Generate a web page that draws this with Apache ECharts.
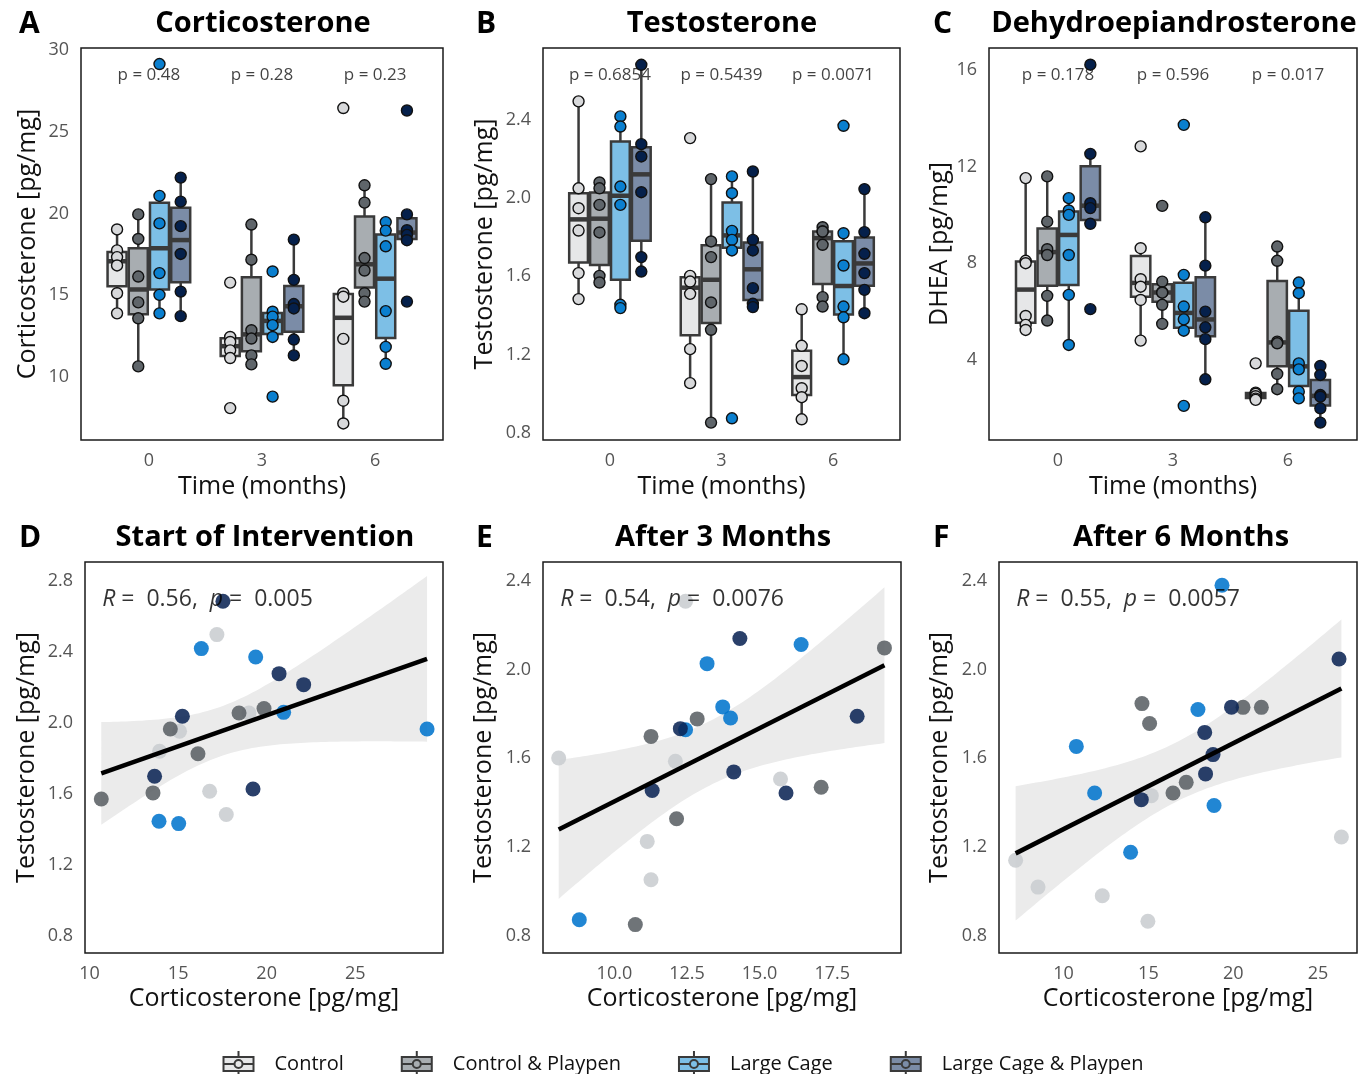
<!DOCTYPE html>
<html>
<head>
<meta charset="utf-8">
<script src="https://cdn.jsdelivr.net/npm/echarts@6/dist/echarts.min.js"></script>
<style>
  html, body { margin: 0; padding: 0; background: #fff; }
  #chart { width: 1366px; height: 1074px; }
</style>
</head>
<body>
<div id="chart"></div>
<script>
// groups and time points
const groups = ['Control', 'Control & Playpen', 'Large Cage', 'Large Cage & Playpen'];
const timeLabels = ['0', '3', '6'];

// panel A: corticosterone per group, one list per time point (0, 3, 6 months)
const cortControl = [[19.03, 17.75, 17.34, 16.83, 15.13, 13.9], [15.78, 12.46, 12.15, 11.64, 11.17, 8.11], [26.45, 15.13, 14.92, 12.34, 8.56, 7.17]];
const cortPlaypen = [[19.95, 18.45, 16.15, 14.57, 13.6, 10.66], [19.33, 17.18, 12.87, 12.36, 11.33, 10.78], [21.73, 20.67, 17.28, 16.52, 15.13, 14.62]];
const cortLarge = [[29.14, 21.08, 19.4, 16.36, 15.03, 13.9], [16.46, 14.0, 13.7, 13.18, 12.46, 8.81], [19.48, 18.96, 18.0, 14.04, 11.85, 10.82]];
const cortLargePlay = [[22.2, 20.73, 19.23, 17.53, 15.23, 13.73], [18.41, 15.95, 14.47, 14.2, 12.3, 11.33], [26.3, 19.95, 18.98, 18.7, 18.37, 14.62]];
const pCort = ['0.48', '0.28', '0.23'];

// panel B: testosterone
const testoControl = [[2.495, 2.05, 1.948, 1.834, 1.616, 1.483], [2.307, 1.602, 1.573, 1.51, 1.227, 1.053], [1.431, 1.244, 1.141, 1.027, 0.981, 0.868]];
const testoPlaypen = [[2.08, 2.05, 1.965, 1.824, 1.602, 1.568], [2.097, 1.778, 1.698, 1.466, 1.326, 0.851], [1.851, 1.829, 1.829, 1.761, 1.493, 1.445]];
const testoLarge = [[2.418, 2.366, 2.059, 1.965, 1.454, 1.437], [2.111, 2.025, 1.832, 1.786, 1.732, 0.873], [2.37, 1.82, 1.655, 1.445, 1.39, 1.175]];
const testoLargePlay = [[2.682, 2.276, 2.213, 2.03, 1.698, 1.624], [2.136, 1.786, 1.732, 1.539, 1.459, 1.442], [2.046, 1.826, 1.715, 1.616, 1.53, 1.411]];
const pTesto = ['0.6854', '0.5439', '0.0071'];

// panel C: DHEA
const dheaControl = [[11.52, 8.1, 8.0, 5.82, 5.45, 5.24], [12.83, 8.62, 7.34, 7.03, 6.48, 4.8], [3.86, 2.65, 2.6, 2.5, 2.4, 2.35]];
const dheaPlaypen = [[11.59, 9.72, 8.58, 8.34, 6.65, 5.63], [10.37, 7.24, 6.8, 6.78, 6.28, 5.49], [8.69, 8.1, 4.76, 4.69, 3.42, 2.79]];
const dheaLarge = [[10.69, 10.18, 10.0, 8.34, 6.69, 4.62], [13.72, 7.52, 6.21, 5.68, 5.21, 2.1], [7.2, 6.76, 3.86, 3.61, 2.69, 2.41]];
const dheaLargePlay = [[16.21, 12.52, 10.48, 10.28, 9.63, 6.1], [9.9, 7.9, 6.0, 5.35, 4.86, 3.2], [3.75, 3.38, 2.55, 2.48, 2.0, 1.41]];
const pDhea = ['0.178', '0.596', '0.017'];

// panels D-F: [corticosterone, testosterone] pairs
const startControl = [[13.95, 1.839], [15.08, 1.951], [16.78, 1.613], [17.19, 2.496], [17.72, 1.482], [19.0, 2.054]];
const startPlaypen = [[10.66, 1.57], [13.58, 1.604], [14.56, 1.964], [16.12, 1.825], [18.44, 2.054], [19.85, 2.079]];
const startLarge = [[13.92, 1.444], [15.03, 1.431], [16.31, 2.417], [19.38, 2.37], [20.96, 2.058], [29.06, 1.964]];
const startLargePlay = [[13.67, 1.698], [15.24, 2.036], [17.53, 2.684], [19.23, 1.626], [20.7, 2.276], [22.09, 2.214]];

const month3Control = [[8.08, 1.601], [11.13, 1.225], [11.26, 1.052], [12.1, 1.586], [12.45, 2.307], [15.72, 1.506]];
const month3Playpen = [[10.72, 0.85], [11.26, 1.698], [12.14, 1.327], [12.85, 1.777], [17.12, 1.469], [19.3, 2.097]];
const month3Large = [[8.79, 0.872], [12.45, 1.728], [13.19, 2.026], [13.73, 1.831], [14.0, 1.781], [16.43, 2.112]];
const month3LargePlay = [[11.3, 1.454], [12.27, 1.733], [14.11, 1.538], [14.32, 2.139], [15.91, 1.443], [18.36, 1.789]];

const month6Control = [[7.17, 1.14], [8.49, 1.019], [12.28, 0.98], [14.97, 0.865], [15.17, 1.431], [26.38, 1.245]];
const month6Playpen = [[14.62, 1.846], [15.07, 1.756], [16.45, 1.443], [17.23, 1.491], [20.58, 1.829], [21.66, 1.829]];
const month6Large = [[10.75, 1.653], [11.83, 1.443], [13.95, 1.176], [17.92, 1.819], [18.87, 1.387], [19.34, 2.379]];
const month6LargePlay = [[14.58, 1.413], [18.32, 1.716], [18.37, 1.529], [18.81, 1.616], [19.9, 1.83], [26.24, 2.047]];

const corrR = ['0.56', '0.54', '0.55'];
const corrP = ['0.005', '0.0076', '0.0057'];

// tick labels
const cortTicks = [10, 15, 20, 25, 30];
const testoTicks = [0.8, 1.2, 1.6, 2.0, 2.4];
const dheaTicks = [4, 8, 12, 16];
const startYTicks = [0.8, 1.2, 1.6, 2.0, 2.4, 2.8];
const startXTicks = [10, 15, 20, 25];
const month3XTicks = [10, 12.5, 15, 17.5];
const month6XTicks = [10, 15, 20, 25];

const FONT = 'Open Sans';
const boxColors = ['#e6e7e8', '#a8adb1', '#7dbfe6', '#7b8ca7'];
const dotColors = ['#d8d9db', '#5f656a', '#0a7fcf', '#05204b'];
const scatterColors = ['#c9ccd0', '#5a5f64', '#0074cd', '#0a2454'];
const dodge = [-0.28125, -0.09375, 0.09375, 0.28125];
const halfBox = 0.084;
const edge = '#3a3a3a';

function quantile(s, p) {
  const h = (s.length - 1) * p;
  const lo = Math.floor(h);
  const hi = Math.min(lo + 1, s.length - 1);
  return s[lo] + (h - lo) * (s[hi] - s[lo]);
}
function boxStats(vals) {
  const s = [...vals].sort((a, b) => a - b);
  const q1 = quantile(s, 0.25), med = quantile(s, 0.5), q3 = quantile(s, 0.75);
  const iqr = q3 - q1;
  const inside = s.filter(v => v >= q1 - 1.5 * iqr && v <= q3 + 1.5 * iqr);
  return [inside[0], q1, med, q3, inside[inside.length - 1]];
}
function fitLine(pts) {
  const n = pts.length;
  const mx = pts.reduce((a, p) => a + p[0], 0) / n;
  const my = pts.reduce((a, p) => a + p[1], 0) / n;
  let sxx = 0, sxy = 0;
  pts.forEach(p => { sxx += (p[0] - mx) ** 2; sxy += (p[0] - mx) * (p[1] - my); });
  const b = sxy / sxx, a = my - b * mx;
  let sse = 0;
  pts.forEach(p => { sse += (p[1] - a - b * p[0]) ** 2; });
  const s = Math.sqrt(sse / (n - 2));
  const tq = 2.074; // t(0.975, df = 22)
  const xmin = Math.min(...pts.map(p => p[0])), xmax = Math.max(...pts.map(p => p[0]));
  const upper = [], lower = [];
  for (let i = 0; i <= 80; i++) {
    const x = xmin + (xmax - xmin) * i / 80;
    const se = s * Math.sqrt(1 / n + (x - mx) ** 2 / sxx);
    upper.push([x, a + b * x + tq * se]);
    lower.push([x, a + b * x - tq * se]);
  }
  return { line: [[xmin, a + b * xmin], [xmax, a + b * xmax]], band: upper.concat(lower.reverse()) };
}

const grids = [
  { left: 81, top: 48, width: 362, height: 392 },
  { left: 543, top: 48, width: 357, height: 392 },
  { left: 989, top: 48, width: 368, height: 392 },
  { left: 85, top: 562, width: 358, height: 391 },
  { left: 543, top: 562, width: 358, height: 391 },
  { left: 999, top: 562, width: 358, height: 391 }
].map(g => Object.assign(g, { show: true, borderColor: '#1a1a1a', borderWidth: 1.5, backgroundColor: '#fff' }));

function axis(gi, min, max, ticks, fmt, name, gap) {
  return {
    type: 'value', gridIndex: gi, min: min, max: max,
    name: name, nameLocation: 'middle', nameGap: gap,
    nameTextStyle: { fontSize: 25, color: '#111', fontFamily: FONT },
    axisLine: { show: false }, axisTick: { show: false }, splitLine: { show: false },
    axisLabel: { customValues: ticks, formatter: fmt, fontSize: 18, color: '#555', margin: 12, fontFamily: FONT }
  };
}
const fmtTime = v => timeLabels[Math.round(v)];
const fmt1 = v => v.toFixed(1);
const fmt0 = v => String(v);

const xAxes = [
  axis(0, -0.6, 2.6, [0, 1, 2], fmtTime, 'Time (months)', 34),
  axis(1, -0.6, 2.6, [0, 1, 2], fmtTime, 'Time (months)', 34),
  axis(2, -0.6, 2.6, [0, 1, 2], fmtTime, 'Time (months)', 34),
  axis(3, 9.74, 29.96, startXTicks, fmt0, 'Corticosterone [pg/mg]', 33),
  axis(4, 7.54, 19.87, month3XTicks, fmt1, 'Corticosterone [pg/mg]', 33),
  axis(5, 6.19, 27.3, month6XTicks, fmt0, 'Corticosterone [pg/mg]', 33)
];
const yAxes = [
  axis(0, 6.16, 30.12, cortTicks, fmt0, 'Corticosterone [pg/mg]', 41),
  axis(1, 0.762, 2.768, testoTicks, fmt1, 'Testosterone [pg/mg]', 46),
  axis(2, 0.69, 16.9, dheaTicks, fmt0, 'DHEA [pg/mg]', 37),
  axis(3, 0.702, 2.905, startYTicks, fmt1, 'Testosterone [pg/mg]', 46),
  axis(4, 0.722, 2.484, testoTicks, fmt1, 'Testosterone [pg/mg]', 47),
  axis(5, 0.722, 2.484, testoTicks, fmt1, 'Testosterone [pg/mg]', 47)
];

const series = [];

// top row: boxplots with points
const topPanels = [
  { vals: [cortControl, cortPlaypen, cortLarge, cortLargePlay], p: pCort },
  { vals: [testoControl, testoPlaypen, testoLarge, testoLargePlay], p: pTesto },
  { vals: [dheaControl, dheaPlaypen, dheaLarge, dheaLargePlay], p: pDhea }
];
topPanels.forEach((panel, i) => {
  panel.vals.forEach((byTime, g) => {
    series.push({
      type: 'custom', name: groups[g], xAxisIndex: i, yAxisIndex: i, z: 2, silent: true,
      data: byTime.map((v, t) => [t].concat(boxStats(v))),
      renderItem: (params, api) => {
        const cx = api.value(0) + dodge[g];
        const low = api.coord([cx, api.value(1)]);
        const q1 = api.coord([cx - halfBox, api.value(2)]);
        const med = api.coord([cx - halfBox, api.value(3)]);
        const q3 = api.coord([cx + halfBox, api.value(4)]);
        const high = api.coord([cx, api.value(5)]);
        const line = { stroke: edge, lineWidth: 2.5 };
        return {
          type: 'group',
          children: [
            { type: 'line', shape: { x1: low[0], y1: low[1], x2: low[0], y2: q1[1] }, style: line },
            { type: 'line', shape: { x1: high[0], y1: high[1], x2: high[0], y2: q3[1] }, style: line },
            { type: 'rect', shape: { x: q1[0], y: q3[1], width: q3[0] - q1[0], height: q1[1] - q3[1] },
              style: { fill: boxColors[g], stroke: edge, lineWidth: 2.5 } },
            { type: 'line', shape: { x1: q1[0], y1: med[1], x2: q3[0], y2: med[1] }, style: { stroke: edge, lineWidth: 4.5 } }
          ]
        };
      }
    });
    series.push({
      type: 'scatter', name: groups[g], xAxisIndex: i, yAxisIndex: i, z: 3, silent: true,
      symbolSize: 11,
      itemStyle: { color: dotColors[g], borderColor: '#111', borderWidth: 1.4, opacity: 1 },
      data: byTime.flatMap((v, t) => v.map(y => [t + dodge[g], y]))
    });
  });
  const ya = yAxes[i];
  series.push({
    type: 'scatter', xAxisIndex: i, yAxisIndex: i, z: 1, silent: true, symbolSize: 0,
    data: [0, 1, 2].map(t => [t, ya.max - 0.069 * (ya.max - ya.min)]),
    label: {
      show: true, position: 'inside', fontSize: 17, color: '#111', fontFamily: FONT,
      formatter: prm => 'p = ' + panel.p[prm.dataIndex]
    }
  });
});

// bottom row: correlation scatter
const bottomPanels = [
  [startControl, startPlaypen, startLarge, startLargePlay],
  [month3Control, month3Playpen, month3Large, month3LargePlay],
  [month6Control, month6Playpen, month6Large, month6LargePlay]
];
bottomPanels.forEach((sets, k) => {
  const i = k + 3;
  const fit = fitLine(sets.flat());
  series.push({
    type: 'custom', xAxisIndex: i, yAxisIndex: i, z: 1, silent: true,
    data: [fit.band[0]],
    renderItem: (params, api) => ({
      type: 'polygon',
      shape: { points: fit.band.map(p => api.coord(p)) },
      style: { fill: '#ebebeb' }
    })
  });
  sets.forEach((pts, g) => {
    series.push({
      type: 'scatter', name: groups[g], xAxisIndex: i, yAxisIndex: i, z: 2, silent: true,
      symbolSize: 15,
      itemStyle: { color: scatterColors[g], opacity: 0.87 },
      data: pts
    });
  });
  series.push({
    type: 'line', xAxisIndex: i, yAxisIndex: i, z: 3, silent: true, symbol: 'none',
    lineStyle: { color: '#000', width: 4.5 },
    data: fit.line
  });
  const xa = xAxes[i], ya = yAxes[i];
  const rich = {
    it: { fontStyle: 'italic', fontSize: 23, color: '#000', fontFamily: FONT },
    n: { fontSize: 23, color: '#000', fontFamily: FONT }
  };
  series.push({
    type: 'scatter', xAxisIndex: i, yAxisIndex: i, z: 4, silent: true, symbolSize: 0,
    data: [[xa.min + 0.048 * (xa.max - xa.min), ya.max - 0.095 * (ya.max - ya.min)]],
    label: {
      show: true, position: 'right', distance: 0, rich: rich,
      formatter: () => '{it|R}{n| =  ' + corrR[k] + ',  }{it|p}{n| =  ' + corrP[k] + '}'
    }
  });
});

const titleStyle = { fontSize: 29, fontWeight: 'bold', color: '#000', fontFamily: FONT };
const letterStyle = { fontSize: 30, fontWeight: 'bold', color: '#000', fontFamily: FONT };
const panelTitles = ['Corticosterone', 'Testosterone', 'Dehydroepiandrosterone', 'Start of Intervention', 'After 3 Months', 'After 6 Months'];
const letters = ['A', 'B', 'C', 'D', 'E', 'F'];
const letterX = [14, 471, 928, 14, 471, 928];
const titleX = [258, 717, 1169, 260, 718, 1176];
const title = [];
panelTitles.forEach((t, i) => {
  const top = i < 3 ? 4 : 518;
  title.push({ text: letters[i], left: letterX[i], top: top, textStyle: letterStyle });
  title.push({ text: t, left: titleX[i], top: top, textAlign: 'center', textStyle: titleStyle });
});

const legendIcon = 'path://M17,0L17,6M2,6L32,6L32,20L2,20ZM17,20L17,26M2,13L13,13M21,13L32,13M21,13A4,4,0,1,1,13,13A4,4,0,1,1,21,13Z';

const chart = echarts.init(document.getElementById('chart'), null, { renderer: 'canvas' });
chart.setOption({
  animation: false,
  backgroundColor: '#fff',
  title: title,
  grid: grids,
  xAxis: xAxes,
  yAxis: yAxes,
  legend: {
    top: 1045, left: 'center', itemWidth: 34, itemHeight: 26, itemGap: 57,
    textStyle: { fontSize: 20, color: '#111', fontFamily: FONT, padding: [0, 0, 0, 14] },
    data: groups.map((n, g) => ({
      name: n, icon: legendIcon,
      itemStyle: { color: boxColors[g], borderColor: edge, borderWidth: 2 }
    }))
  },
  series: series
});
</script>
</body>
</html>
